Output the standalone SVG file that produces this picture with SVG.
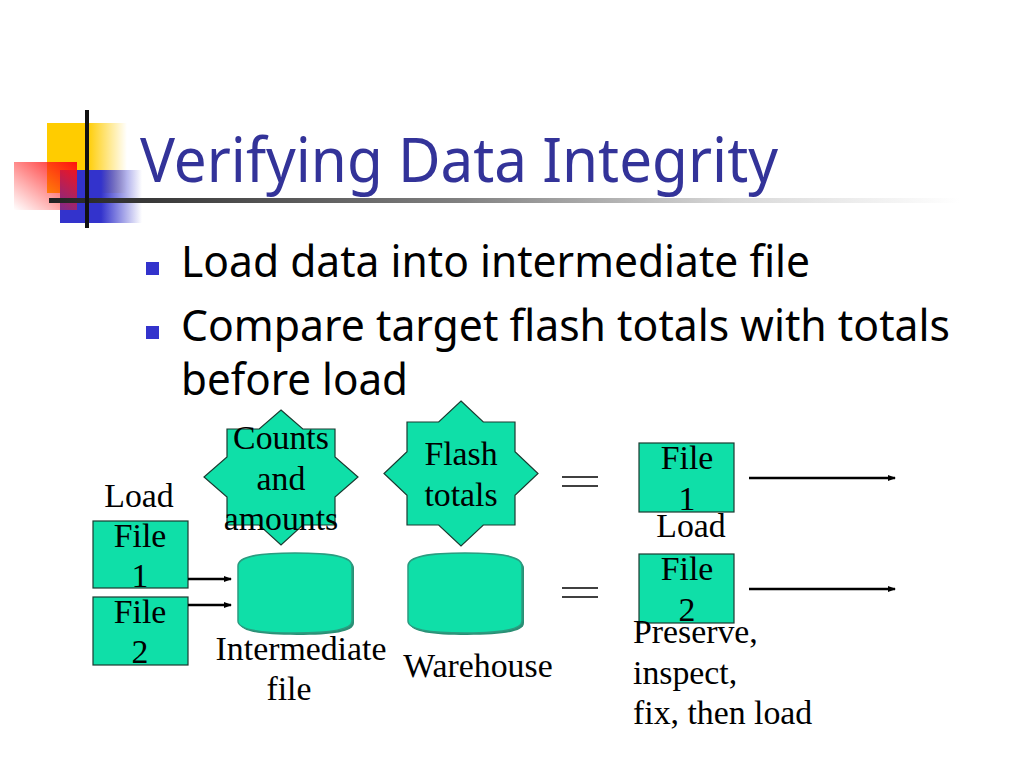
<svg xmlns="http://www.w3.org/2000/svg" width="1024" height="768" viewBox="0 0 1024 768">
<defs>
<linearGradient id="gY" x1="0" y1="0" x2="1" y2="0"><stop offset="0" stop-color="#FFCC00"/><stop offset="0.5" stop-color="#FFCC00"/><stop offset="1" stop-color="#FFCC00" stop-opacity="0"/></linearGradient>
<linearGradient id="gB" x1="0" y1="0" x2="1" y2="0"><stop offset="0" stop-color="#3333CC"/><stop offset="0.5" stop-color="#3333CC"/><stop offset="1" stop-color="#3333CC" stop-opacity="0"/></linearGradient>
<linearGradient id="gR" x1="1" y1="0" x2="0" y2="1"><stop offset="0" stop-color="#FF1010"/><stop offset="1" stop-color="#FF2020" stop-opacity="0"/></linearGradient>
<linearGradient id="gL" x1="0" y1="0" x2="1" y2="0"><stop offset="0" stop-color="#222"/><stop offset="0.45" stop-color="#808080"/><stop offset="0.75" stop-color="#d8d8d8"/><stop offset="1" stop-color="#fff"/></linearGradient>
<marker id="ah" markerWidth="8" markerHeight="6" refX="7" refY="3" orient="auto" markerUnits="userSpaceOnUse"><path d="M0,0 L8,3 L0,6 Z" fill="#000"/></marker>
</defs>
<style>
.t{font-family:"Noto Sans","DejaVu Sans",sans-serif}
.lbl{font-family:"Liberation Serif","Times New Roman",serif;font-size:33.8px;fill:#000}
.mid{text-anchor:middle}
.shape{fill:#0FDFA8;stroke:#1a3a30;stroke-width:1.2}
.cyl{fill:#0FDFA8;stroke:#2b9c80;stroke-width:1.5}
.cylsh{fill:#2a8f74}
.conn{stroke:#000;stroke-width:2.5;fill:none}
.eq{stroke:#000;stroke-width:1.6}
</style>
<rect width="1024" height="768" fill="#fff"/>
<g id="logo">
<rect x="47" y="123" width="80" height="70" fill="url(#gY)"/>
<rect x="60" y="170" width="82" height="53" fill="url(#gB)"/>
<rect x="14" y="162" width="63" height="48" fill="url(#gR)"/>
<rect x="49" y="198" width="911" height="5" fill="url(#gL)"/>
<rect x="85" y="110" width="4" height="118" fill="#111"/>
</g>
<g id="title">
<text class="t" x="140" y="182" font-size="62" fill="#333399" textLength="638" lengthAdjust="spacingAndGlyphs">Verifying Data Integrity</text>
</g>
<g id="bullets">
<rect x="146" y="262" width="13" height="13" fill="#3333CC"/>
<rect x="146" y="326" width="13" height="13" fill="#3333CC"/>
<text class="t" x="181" y="277" font-size="44" fill="#000" textLength="629" lengthAdjust="spacingAndGlyphs">Load data into intermediate file</text>
<text class="t" x="181" y="341" font-size="44" fill="#000" textLength="769" lengthAdjust="spacingAndGlyphs">Compare target flash totals with totals</text>
<text class="t" x="181" y="395" font-size="44" fill="#000" textLength="227" lengthAdjust="spacingAndGlyphs">before load</text>
</g>
<g id="counts-star">
<polygon class="shape" points="281,410 302.8,429 335,429 335,457 358,477 335,497 335,525 302.8,525 281,545 259.2,525 227,525 227,497 204,477 227,457 227,429 259.2,429"/>
<text class="lbl mid" x="281" y="449">Counts</text>
<text class="lbl mid" x="281" y="490">and</text>
<text class="lbl mid" x="281" y="530">amounts</text>
</g>
<g id="flash-star">
<polygon class="shape" points="461,401 483.3,422 515,422 515,451.8 538,473.5 515,495.2 515,525 483.3,525 461,546 438.7,525 407,525 407,495.2 384,473.5 407,451.8 407,422 438.7,422"/>
<text class="lbl mid" x="461" y="465">Flash</text>
<text class="lbl mid" x="461" y="506">totals</text>
</g>
<g id="load-label">
<text class="lbl mid" x="139" y="507">Load</text>
</g>
<g id="file1-left">
<rect class="shape" x="93" y="521" width="95" height="67"/>
<text class="lbl mid" x="140" y="547">File</text>
<text class="lbl mid" x="140" y="587">1</text>
</g>
<g id="file2-left">
<rect class="shape" x="93" y="597" width="95" height="68"/>
<text class="lbl mid" x="140" y="623">File</text>
<text class="lbl mid" x="140" y="663">2</text>
</g>
<g id="intermediate">
<path class="cylsh" d="M240,568 C240,558 262,555 297,555 C332,555 354,558 354,568 L354,623 C354,632 332,635 297,635 C262,635 240,632 240,623 Z"/>
<path class="cyl" d="M238,566 C238,556 260,553 295,553 C330,553 352,556 352,566 L352,621 C352,630 330,633 295,633 C260,633 238,630 238,621 Z"/>
<text class="lbl mid" x="301" y="660">Intermediate</text>
<text class="lbl mid" x="289" y="700">file</text>
</g>
<g id="warehouse">
<path class="cylsh" d="M410,568 C410,558 432,555 467,555 C502,555 524,558 524,568 L524,623 C524,632 502,635 467,635 C432,635 410,632 410,623 Z"/>
<path class="cyl" d="M408,566 C408,556 430,553 465,553 C500,553 522,556 522,566 L522,621 C522,630 500,633 465,633 C430,633 408,630 408,621 Z"/>
<text class="lbl mid" x="478" y="677">Warehouse</text>
</g>
<g id="file1-right">
<rect class="shape" x="639" y="443" width="95" height="69"/>
<text class="lbl mid" x="687" y="469">File</text>
<text class="lbl mid" x="687" y="510">1</text>
</g>
<g id="load-right">
<text class="lbl mid" x="691" y="537">Load</text>
</g>
<g id="file2-right">
<rect class="shape" x="639" y="554" width="95" height="69"/>
<text class="lbl mid" x="687" y="580">File</text>
<text class="lbl mid" x="687" y="621">2</text>
</g>
<g id="preserve-note">
<text class="lbl" x="633" y="643">Preserve,</text>
<text class="lbl" x="633" y="684">inspect,</text>
<text class="lbl" x="633" y="724">fix, then load</text>
</g>
<g id="connectors">
<line class="conn" x1="188" y1="579" x2="231" y2="579" marker-end="url(#ah)"/>
<line class="conn" x1="188" y1="605" x2="231" y2="605" marker-end="url(#ah)"/>
<line class="conn" x1="749" y1="478" x2="895" y2="478" marker-end="url(#ah)"/>
<line class="conn" x1="749" y1="589" x2="895" y2="589" marker-end="url(#ah)"/>
<line class="eq" x1="562" y1="477" x2="598" y2="477"/>
<line class="eq" x1="562" y1="486" x2="598" y2="486"/>
<line class="eq" x1="562" y1="588" x2="598" y2="588"/>
<line class="eq" x1="562" y1="597" x2="598" y2="597"/>
</g>
</svg>
